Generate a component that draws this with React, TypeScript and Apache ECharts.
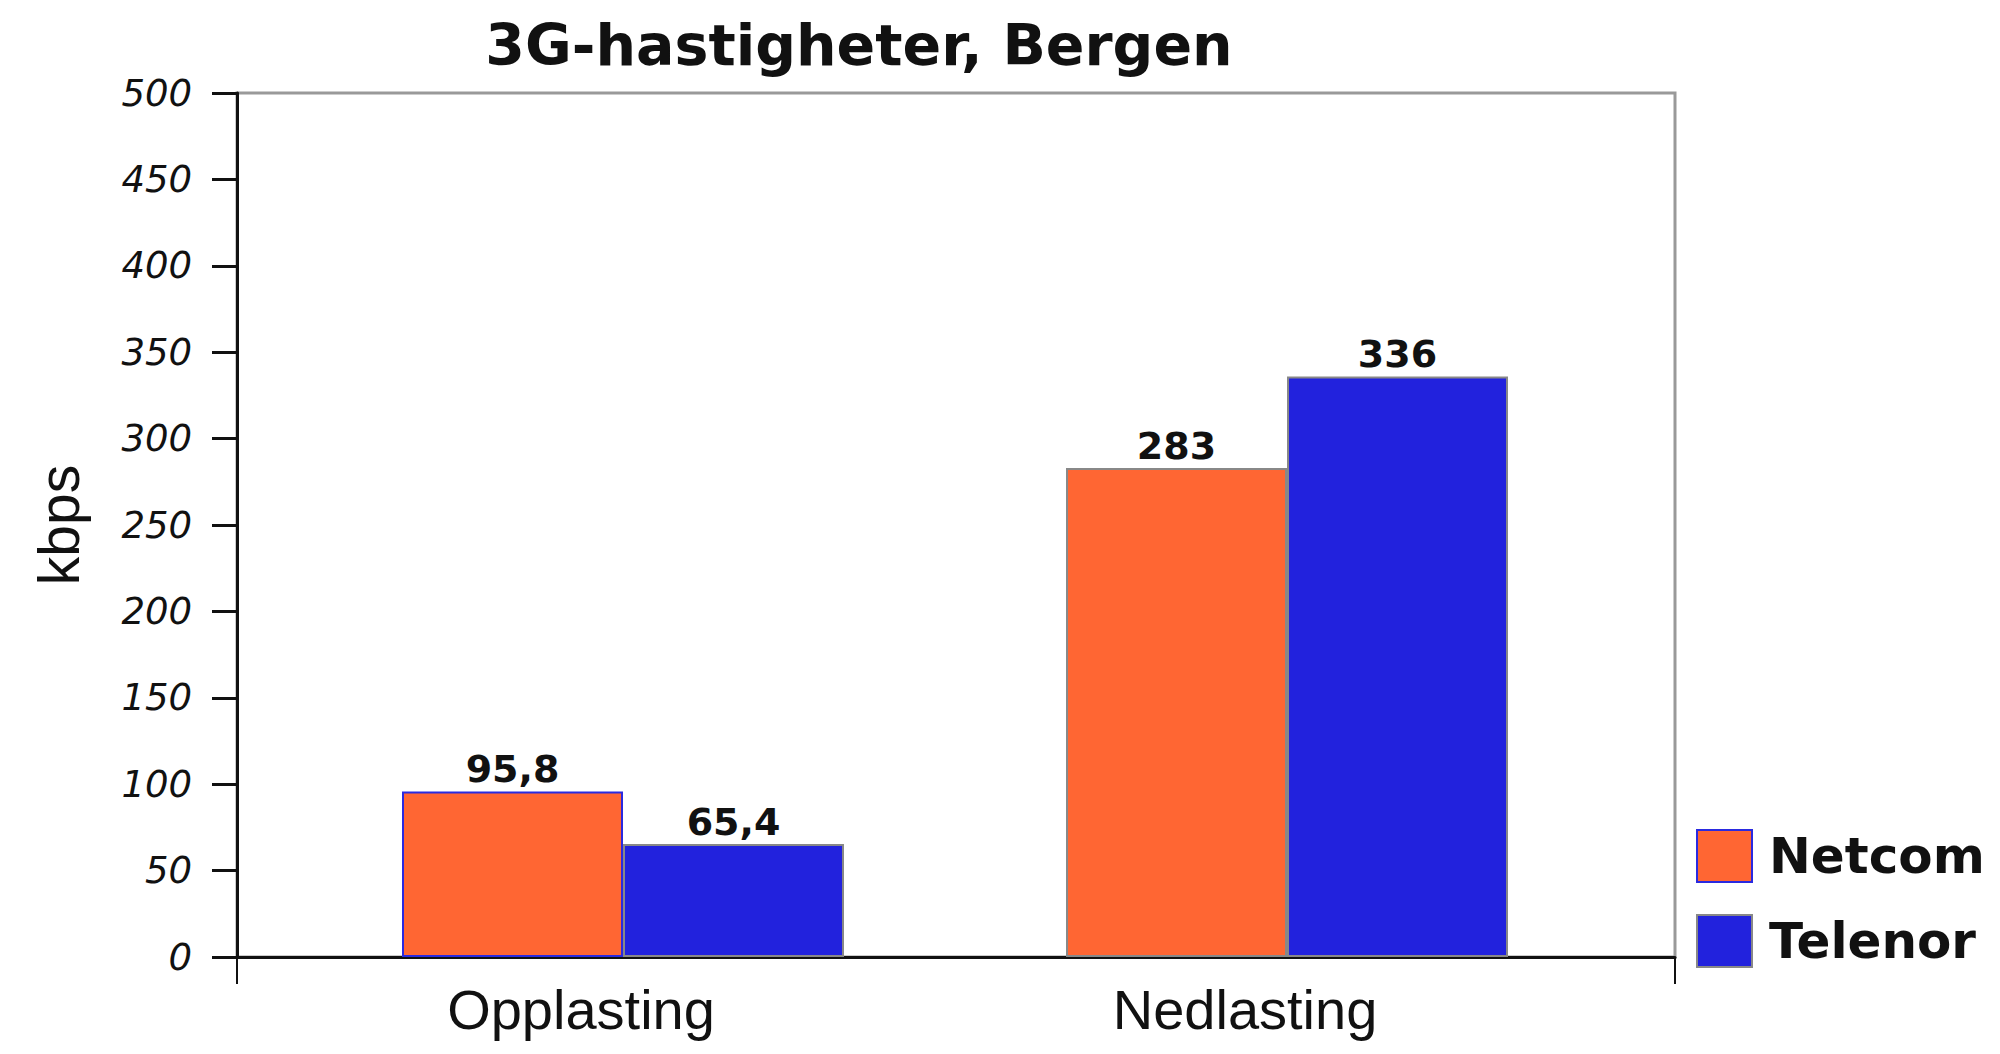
import React, { useEffect, useRef } from "react";
import * as echarts from "echarts";

const chartTitle = "3G-hastigheter, Bergen";
const categories = ["Opplasting", "Nedlasting"];
const netcomValues = [95.8, 283];
const telenorValues = [65.4, 336];
const seriesNames = ["Netcom", "Telenor"];
const yAxisName = "kbps";
const yMin = 0;
const yMax = 500;
const yInterval = 50;

const fmt = (v: number) => String(v).replace(".", ",");

export default function App() {
  const ref = useRef<HTMLDivElement>(null);
  useEffect(() => {
    document.body.style.margin = "0";
    if (!ref.current) return;
    const chart = echarts.init(ref.current, null, { renderer: "svg" });
    const labelStyle = {
      show: true,
      position: "top" as const,
      distance: 3,
      formatter: (p: any) => fmt(p.value),
      fontFamily: "DejaVu Sans",
      fontWeight: "bold" as const,
      fontSize: 38,
      color: "#111",
    };
    chart.setOption({
      animation: false,
      backgroundColor: "#ffffff",
      title: {
        text: chartTitle,
        left: 854,
        textAlign: "center",
        top: 11,
        textStyle: {
          fontFamily: "DejaVu Sans",
          fontWeight: "bold",
          fontSize: 57,
          color: "#111",
        },
      },
      legend: {
        orient: "vertical",
        left: 1691,
        top: 824,
        itemWidth: 55,
        itemHeight: 52,
        itemGap: 31,
        icon: "rect",
        data: seriesNames,
        textStyle: {
          fontFamily: "DejaVu Sans",
          fontWeight: "bold",
          fontSize: 50,
          color: "#111",
          padding: [0, 0, 0, 12],
        },
      },
      grid: [
        {
          left: 237,
          right: 325,
          top: 93,
          bottom: 97,
          show: true,
          borderColor: "#999",
          borderWidth: 3,
          backgroundColor: "transparent",
        },
        { left: 291, right: 381, top: 93, bottom: 97 },
      ],
      xAxis: [
        {
          gridIndex: 0,
          type: "value",
          min: 0,
          max: 1,
          interval: 1,
          axisLine: { show: true, lineStyle: { color: "#111", width: 3 } },
          axisTick: { show: true, length: 27, lineStyle: { color: "#111", width: 2 } },
          axisLabel: { show: false },
          splitLine: { show: false },
        },
        {
          gridIndex: 1,
          type: "category",
          data: categories,
          axisLine: { show: false },
          axisTick: { show: false },
          axisLabel: {
            fontFamily: "Liberation Sans",
            fontSize: 56,
            color: "#111",
            margin: 24,
            padding: [0, 84, 0, 0],
          },
        },
      ],
      yAxis: [
        {
          gridIndex: 0,
          type: "value",
          min: yMin,
          max: yMax,
          interval: yInterval,
          name: yAxisName,
          nameLocation: "middle",
          nameRotate: 90,
          nameGap: 150,
          nameTextStyle: { fontFamily: "Liberation Sans", fontSize: 57, color: "#111" },
          axisLine: { show: true, lineStyle: { color: "#111", width: 3 } },
          axisTick: { show: true, length: 25, lineStyle: { color: "#111", width: 3 } },
          axisLabel: {
            fontFamily: "DejaVu Sans",
            fontStyle: "italic",
            fontSize: 37,
            color: "#111",
            margin: 45,
          },
          splitLine: { show: false },
        },
        { gridIndex: 1, type: "value", min: yMin, max: yMax, show: false, splitLine: { show: false } },
      ],
      series: [
        {
          name: seriesNames[0],
          type: "bar",
          xAxisIndex: 1,
          yAxisIndex: 1,
          barWidth: 221,
          barGap: "0%",
          itemStyle: { color: "#FF6633", borderColor: "#2a2ae0", borderWidth: 2 },
          label: labelStyle,
          data: netcomValues.map((v, i) =>
            i === 0 ? v : { value: v, itemStyle: { borderColor: "#888" } }
          ),
        },
        {
          name: seriesNames[1],
          type: "bar",
          xAxisIndex: 1,
          yAxisIndex: 1,
          barWidth: 221,
          barGap: "0%",
          itemStyle: { color: "#2222DD", borderColor: "#888", borderWidth: 2 },
          label: labelStyle,
          data: telenorValues,
        },
      ],
    });
    return () => chart.dispose();
  }, []);
  return <div ref={ref} style={{ width: 2000, height: 1054 }} />;
}
